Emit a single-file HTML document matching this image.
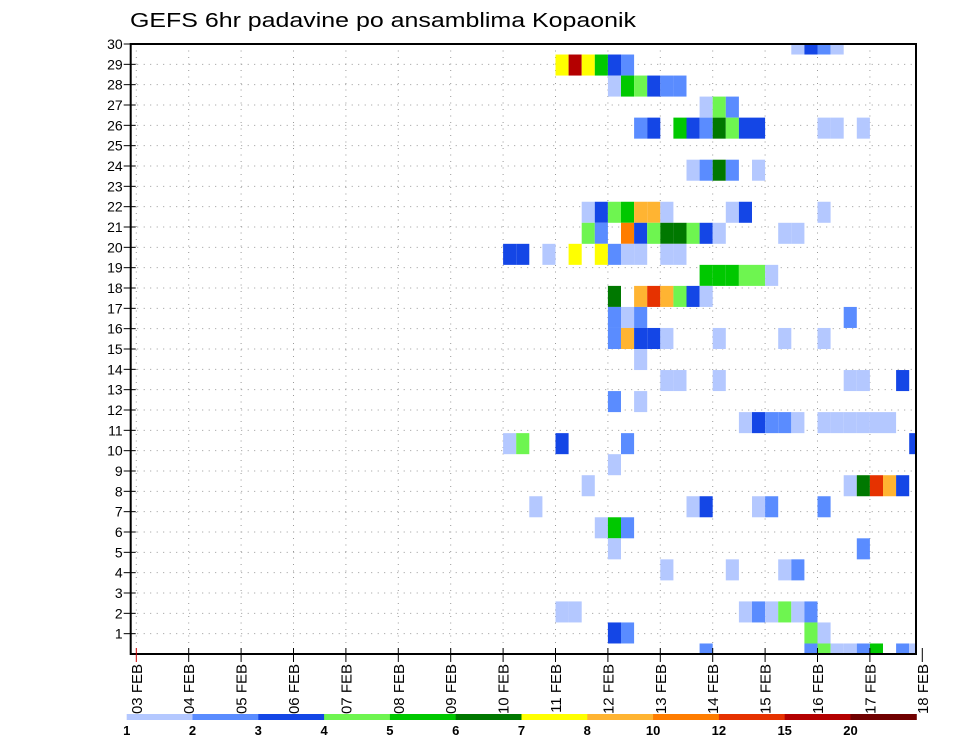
<!DOCTYPE html>
<html><head><meta charset="utf-8"><title>GEFS 6hr padavine</title>
<style>html,body{margin:0;padding:0;background:#fff}svg{display:block;font-family:"Liberation Sans","DejaVu Sans",sans-serif}</style>
</head><body>
<svg id="chart" width="960" height="742" viewBox="0 0 960 742" xmlns="http://www.w3.org/2000/svg">
<text x="130" y="27" font-size="20" textLength="506" lengthAdjust="spacingAndGlyphs">GEFS 6hr padavine po ansamblima Kopaonik</text>
<g id="grid"></g><g id="cells"></g><g id="axes"></g><g id="legend"></g>
</svg>
<script>
// x-axis: day labels; columns are 6-hour steps starting at 03 FEB 00Z
const dayLabels = ["03 FEB","04 FEB","05 FEB","06 FEB","07 FEB","08 FEB","09 FEB","10 FEB","11 FEB","12 FEB","13 FEB","14 FEB","15 FEB","16 FEB","17 FEB","18 FEB"];
const yTickLabels = [1,2,3,4,5,6,7,8,9,10,11,12,13,14,15,16,17,18,19,20,21,22,23,24,25,26,27,28,29,30];
const binEdges = [1,2,3,4,5,6,7,8,10,12,15,20];
const binColors = ["#b4c8ff","#5a8cff","#1446e6","#6ef550","#00c800","#007800","#ffff00","#ffb432","#ff7d00","#e63200","#b40000","#700000"];
// ensemble members, top (index 0) to bottom (index 29): [column, precip mm]
const m00 = [[50,1.5],[51,3.5],[52,2.5],[53,1.5]];
const m01 = [[32,7.5],[33,17],[34,7.5],[35,5.5],[36,3.5],[37,2.5]];
const m02 = [[36,1.5],[37,5.5],[38,4.5],[39,3.5],[40,2.5],[41,2.5]];
const m03 = [[43,1.5],[44,4.5],[45,2.5]];
const m04 = [[38,2.5],[39,3.5],[41,5.5],[42,3.5],[43,2.5],[44,6.5],[45,4.5],[46,3.5],[47,3.5],[52,1.5],[53,1.5],[55,1.5]];
const m05 = [];
const m06 = [[42,1.5],[43,2.5],[44,6.5],[45,2.5],[47,1.5]];
const m07 = [];
const m08 = [[34,1.5],[35,3.5],[36,4.5],[37,5.5],[38,9],[39,9],[40,1.5],[45,1.5],[46,3.5],[52,1.5]];
const m09 = [[34,4.5],[35,2.5],[37,11],[38,3.5],[39,4.5],[40,6.5],[41,6.5],[42,4.5],[43,3.5],[44,1.5],[49,1.5],[50,1.5]];
const m10 = [[28,3.5],[29,3.5],[31,1.5],[33,7.5],[35,7.5],[36,2.5],[37,1.5],[38,1.5],[40,1.5],[41,1.5]];
const m11 = [[43,5.5],[44,5.5],[45,5.5],[46,4.5],[47,4.5],[48,1.5]];
const m12 = [[36,6.5],[38,9],[39,13.5],[40,9],[41,4.5],[42,3.5],[43,1.5]];
const m13 = [[36,2.5],[37,1.5],[38,2.5],[54,2.5]];
const m14 = [[36,2.5],[37,9],[38,3.5],[39,3.5],[40,1.5],[44,1.5],[49,1.5],[52,1.5]];
const m15 = [[38,1.5]];
const m16 = [[40,1.5],[41,1.5],[44,1.5],[54,1.5],[55,1.5],[58,3.5]];
const m17 = [[36,2.5],[38,1.5]];
const m18 = [[46,1.5],[47,3.5],[48,2.5],[49,2.5],[50,1.5],[52,1.5],[53,1.5],[54,1.5],[55,1.5],[56,1.5],[57,1.5]];
const m19 = [[28,1.5],[29,4.5],[32,3.5],[37,2.5],[59,3.5]];
const m20 = [[36,1.5]];
const m21 = [[34,1.5],[54,1.5],[55,6.5],[56,13.5],[57,9],[58,3.5]];
const m22 = [[30,1.5],[42,1.5],[43,3.5],[47,1.5],[48,2.5],[52,2.5]];
const m23 = [[35,1.5],[36,5.5],[37,2.5]];
const m24 = [[36,1.5],[55,2.5]];
const m25 = [[40,1.5],[45,1.5],[49,1.5],[50,2.5]];
const m26 = [];
const m27 = [[32,1.5],[33,1.5],[46,1.5],[47,2.5],[48,1.5],[49,4.5],[50,1.5],[51,2.5]];
const m28 = [[36,3.5],[37,2.5],[51,4.5],[52,1.5]];
const m29 = [[43,2.5],[51,2.5],[52,4.5],[53,1.5],[54,1.5],[55,2.5],[56,5.5],[58,2.5],[59,1.5]];
const members = [m00,m01,m02,m03,m04,m05,m06,m07,m08,m09,m10,m11,m12,m13,m14,m15,m16,m17,m18,m19,m20,m21,m22,m23,m24,m25,m26,m27,m28,m29];

const NS="http://www.w3.org/2000/svg";
const L=130.7,R=916,T=44,B=654;
const X0=136.3, DAY=52.4;
const xCol=c=>X0+c*DAY/4;
const xDay=d=>X0+d*DAY;
const rowH=(B-T)/(members.length-1);
const yRow=i=>T+i*rowH;
const yTick=v=>B-v*(B-T)/30;
function mk(tag,attrs,parent){const e=document.createElementNS(NS,tag);for(const k in attrs)e.setAttribute(k,attrs[k]);parent.appendChild(e);return e;}
function colorFor(v){let k=0;for(let i=0;i<binEdges.length;i++)if(v>=binEdges[i])k=i;return binColors[k];}
const grid=document.getElementById('grid'),cells=document.getElementById('cells'),axes=document.getElementById('axes'),leg=document.getElementById('legend');

// grid
dayLabels.forEach((d,i)=>{const x=xDay(i);if(x>R)return;const g=mk('line',{x1:x,x2:x,y1:T,y2:B,stroke:'#999','stroke-width':1,'stroke-dasharray':'1 5.5'},grid);

});
yTickLabels.forEach(v=>{const y=yTick(v);const g=mk('line',{x1:L,x2:R,y1:y,y2:y,stroke:'#999','stroke-width':1,'stroke-dasharray':'1 5.5'},grid);

});

// cells
const clip=mk('clipPath',{id:'pc'},mk('defs',{},cells));mk('rect',{x:L,y:T,width:R-L,height:B-T},clip);
const cg=mk('g',{'clip-path':'url(#pc)'},cells);
members.forEach((row,i)=>{row.forEach(p=>{const x=xCol(p[0]);const r=mk('rect',{x:x,y:yRow(i)-rowH/2,width:DAY/4,height:rowH,fill:colorFor(p[1])},cg);

});});

// frame
const fr=mk('rect',{x:L,y:T,width:R-L,height:B-T,fill:'none',stroke:'#000','stroke-width':2},axes);


// y ticks
yTickLabels.forEach(v=>{const y=yTick(v);mk('line',{x1:L-7,x2:L+5,y1:y,y2:y,stroke:'#000','stroke-width':1},axes);
const t=mk('text',{x:L-8,y:y+5,'font-size':14,'text-anchor':'end'},axes);t.textContent=v;

});
// x ticks
dayLabels.forEach((d,i)=>{const x=xDay(i);mk('line',{x1:x,x2:x,y1:B-6,y2:B+8,stroke:i===0?'#c00':'#000','stroke-width':1},axes);
const t=mk('text',{x:0,y:0,'font-size':15,'text-anchor':'end',transform:`translate(${x+5.5},${B+10}) rotate(-90)`},axes);t.textContent=d;

});

// color legend
const CB0=126.7,CBW=65.8;
binColors.forEach((c,i)=>{const r=mk('rect',{x:CB0+i*CBW,y:714,width:CBW+0.5,height:6,fill:c},leg);

});
binEdges.forEach((v,i)=>{const t=mk('text',{x:CB0+i*CBW,y:735,'font-size':13,'font-weight':'bold','text-anchor':'middle'},leg);t.textContent=v;

});
</script>
</body></html>
